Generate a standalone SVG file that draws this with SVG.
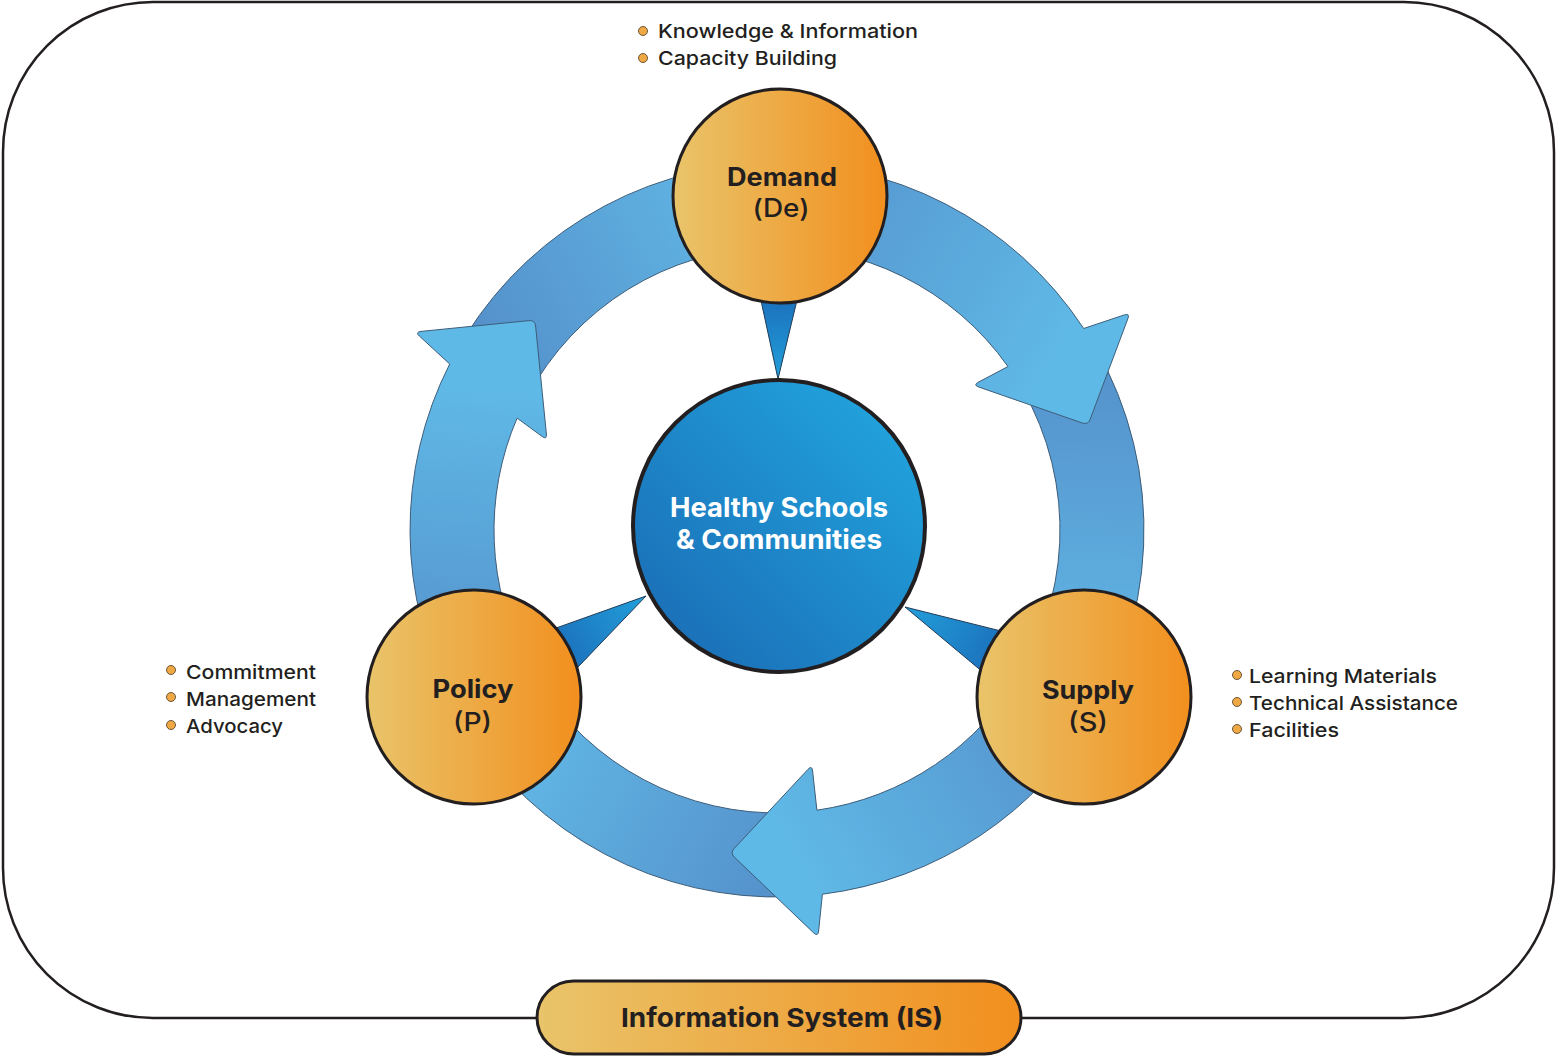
<svg xmlns="http://www.w3.org/2000/svg" width="1557" height="1058" viewBox="0 0 1557 1058">
<style>
.t{font-family:Inter,"Noto Sans","Liberation Sans",sans-serif;fill:#231f20}
.b{font-weight:700}
.m{font-weight:500}
.lbl{font-size:19px}
.arr{stroke:#3d5d7a;stroke-width:1;stroke-linejoin:round}
.wedge{stroke:#1f3b57;stroke-width:1;stroke-linejoin:round}
.node{stroke:#231f20;stroke-width:3}
.dot{fill:#f0a845;stroke:#5a4a30;stroke-width:0.9}
</style>
<defs>
<linearGradient id="og" x1="0" y1="0" x2="1" y2="0">
<stop offset="0" stop-color="#e9c46a"/><stop offset="1" stop-color="#f28f1e"/>
</linearGradient>
<linearGradient id="cg" x1="0" y1="1" x2="1" y2="0">
<stop offset="0" stop-color="#1a68b2"/><stop offset="1" stop-color="#22aae2"/>
</linearGradient>
<linearGradient id="gA1" gradientUnits="userSpaceOnUse" x1="766" y1="205" x2="1050" y2="370"><stop offset="0" stop-color="#5592cc"/><stop offset="1" stop-color="#5fb9e6"/></linearGradient>
<linearGradient id="gA3" gradientUnits="userSpaceOnUse" x1="1058" y1="692" x2="790" y2="852"><stop offset="0" stop-color="#5592cc"/><stop offset="1" stop-color="#5fb9e6"/></linearGradient>
<linearGradient id="gA5" gradientUnits="userSpaceOnUse" x1="490" y1="683" x2="515" y2="390"><stop offset="0" stop-color="#5592cc"/><stop offset="1" stop-color="#5fb9e6"/></linearGradient>
<linearGradient id="gT1" gradientUnits="userSpaceOnUse" x1="1058" y1="367" x2="1043" y2="716"><stop offset="0" stop-color="#5592cc"/><stop offset="1" stop-color="#62bce8"/></linearGradient>
<linearGradient id="gT2" gradientUnits="userSpaceOnUse" x1="788" y1="855" x2="501" y2="702"><stop offset="0" stop-color="#5592cc"/><stop offset="1" stop-color="#62bce8"/></linearGradient>
<linearGradient id="gT3" gradientUnits="userSpaceOnUse" x1="501" y1="358" x2="788" y2="205"><stop offset="0" stop-color="#5592cc"/><stop offset="1" stop-color="#62bce8"/></linearGradient>
<linearGradient id="wD" gradientUnits="userSpaceOnUse" x1="778" y1="300" x2="778" y2="379"><stop offset="0" stop-color="#1b72bc"/><stop offset="1" stop-color="#239fdb"/></linearGradient>
<linearGradient id="wP" gradientUnits="userSpaceOnUse" x1="560" y1="650" x2="646" y2="596"><stop offset="0" stop-color="#1b72bc"/><stop offset="1" stop-color="#239fdb"/></linearGradient>
<linearGradient id="wS" gradientUnits="userSpaceOnUse" x1="995" y1="655" x2="905" y2="607"><stop offset="0" stop-color="#1b72bc"/><stop offset="1" stop-color="#239fdb"/></linearGradient>
</defs>

<rect id="frame" x="3" y="2" width="1551" height="1016" rx="150" ry="150" fill="#ffffff" stroke="#231f20" stroke-width="2.5"/>

<g id="connectors">
<path class="arr" fill="url(#gT1)" d="M 1094.8 346.5 A 367 367 0 0 1 1077.6 740.5 L 1008.8 692.3 A 283 283 0 0 0 1022.1 388.5 Z"/>
<path class="arr" fill="url(#gT2)" d="M 789.8 896.8 A 367 367 0 0 1 465.8 724.5 L 537 680 A 283 283 0 0 0 786.9 812.8 Z"/>
<path class="arr" fill="url(#gT3)" d="M 465.8 335.5 A 367 367 0 0 1 789.8 163.2 L 786.9 247.2 A 283 283 0 0 0 537 380 Z"/>
<path class="arr" fill="url(#gA1)" d="M 764.2 163.2 A 367 367 0 0 1 1083.7 328.5 L 1124.3 314.9 Q 1130 313 1127.9 318.6 L 1090.1 419.4 Q 1088 425 1082.3 423 L 978.7 387 Q 973 385 978.3 382.2 L 1008 366.5 A 283 283 0 0 0 767.1 247.2 Z"/>
<path class="arr" fill="url(#gA3)" d="M 1094.8 713.5 A 367 367 0 0 1 822.4 894.2 L 818.6 931 Q 818 937 813.7 932.9 L 734.3 857.1 Q 730 853 734.1 848.6 L 807.9 769.4 Q 812 765 812.6 771 L 816.9 810.2 A 283 283 0 0 0 1022.1 671.5 Z"/>
<path class="arr" fill="url(#gA5)" d="M 453 702.3 A 367 367 0 0 1 449.7 364 L 419.4 336.1 Q 415 332 421 331.4 L 529 320.6 Q 535 320 535.6 326 L 546.4 434 Q 547 440 542.2 436.5 L 517.1 418.1 A 283 283 0 0 0 527.1 662.9 Z"/>
<polygon class="wedge" fill="url(#wD)" points="760,296 798,296 778,379"/>
<polygon class="wedge" fill="url(#wP)" points="646,596 546.6,631.4 572.1,673.2"/>
<polygon class="wedge" fill="url(#wS)" points="905,607 1008.6,632.9 987.2,675.7"/>
</g>

<g id="center">
<circle cx="779" cy="526" r="146" fill="url(#cg)" stroke="#231f20" stroke-width="4"/>
<text class="t b" x="779" y="517" font-size="27" text-anchor="middle" style="fill:#ffffff" textLength="218" lengthAdjust="spacingAndGlyphs">Healthy Schools</text>
<text class="t b" x="779" y="549" font-size="27" text-anchor="middle" style="fill:#ffffff" textLength="206" lengthAdjust="spacingAndGlyphs">&amp; Communities</text>
</g>

<g id="demand">
<circle class="node" cx="780" cy="196" r="107" fill="url(#og)"/>
<text class="t b" x="782" y="186" font-size="25" text-anchor="middle" textLength="110" lengthAdjust="spacingAndGlyphs">Demand</text>
<text class="t m" x="781" y="217" font-size="25" text-anchor="middle" textLength="57" lengthAdjust="spacingAndGlyphs">(De)</text>
</g>

<g id="policy">
<circle class="node" cx="474" cy="697" r="107" fill="url(#og)"/>
<text class="t b" x="473" y="698" font-size="25" text-anchor="middle" textLength="81" lengthAdjust="spacingAndGlyphs">Policy</text>
<text class="t m" x="472.5" y="731" font-size="25" text-anchor="middle" textLength="39" lengthAdjust="spacingAndGlyphs">(P)</text>
</g>

<g id="supply">
<circle class="node" cx="1084" cy="697" r="107" fill="url(#og)"/>
<text class="t b" x="1088" y="699" font-size="25" text-anchor="middle" textLength="92" lengthAdjust="spacingAndGlyphs">Supply</text>
<text class="t m" x="1088" y="731" font-size="25" text-anchor="middle" textLength="40" lengthAdjust="spacingAndGlyphs">(S)</text>
</g>

<g id="info-system">
<rect class="node" x="537" y="981" width="484" height="73" rx="36.5" ry="36.5" fill="url(#og)"/>
<text class="t b" x="782" y="1027" font-size="26" text-anchor="middle" textLength="322" lengthAdjust="spacingAndGlyphs">Information System (IS)</text>
</g>

<g id="demand-list">
<circle class="dot" cx="643" cy="31" r="4.5"/>
<circle class="dot" cx="643" cy="58" r="4.5"/>
<text class="t m lbl" x="658" y="38" textLength="260" lengthAdjust="spacingAndGlyphs">Knowledge &amp; Information</text>
<text class="t m lbl" x="658" y="65" textLength="179" lengthAdjust="spacingAndGlyphs">Capacity Building</text>
</g>

<g id="policy-list">
<circle class="dot" cx="171" cy="670" r="4.5"/>
<circle class="dot" cx="171" cy="697" r="4.5"/>
<circle class="dot" cx="171" cy="725" r="4.5"/>
<text class="t m lbl" x="186" y="679" textLength="130" lengthAdjust="spacingAndGlyphs">Commitment</text>
<text class="t m lbl" x="186" y="706" textLength="130" lengthAdjust="spacingAndGlyphs">Management</text>
<text class="t m lbl" x="186" y="733" textLength="97" lengthAdjust="spacingAndGlyphs">Advocacy</text>
</g>

<g id="supply-list">
<circle class="dot" cx="1237" cy="675" r="4.5"/>
<circle class="dot" cx="1237" cy="702" r="4.5"/>
<circle class="dot" cx="1237" cy="729" r="4.5"/>
<text class="t m lbl" x="1249" y="683" textLength="188" lengthAdjust="spacingAndGlyphs">Learning Materials</text>
<text class="t m lbl" x="1249" y="710" textLength="209" lengthAdjust="spacingAndGlyphs">Technical Assistance</text>
<text class="t m lbl" x="1249" y="737" textLength="90" lengthAdjust="spacingAndGlyphs">Facilities</text>
</g>
</svg>
